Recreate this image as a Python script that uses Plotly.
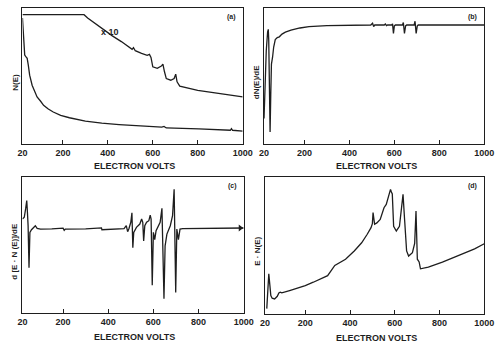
import plotly.graph_objects as go

# ---------------- data (arbitrary intensity units, 0-100) ----------------
# (a) N(E): x10 curve and normal curve
a_hi_E = [20, 294, 310, 340, 373, 420, 460, 500, 508, 514, 522, 550, 575, 585, 592, 600, 620, 638, 645, 652, 660, 680, 695, 702, 708, 720, 760, 800, 900, 1000]
a_hi_N = [95.1, 95.1, 92.6, 88.9, 85.2, 79.5, 75.3, 70.4, 69.6, 70.9, 68.6, 66.7, 65.2, 65.9, 63.7, 56.8, 55.6, 57.3, 58.8, 53.1, 48.1, 46.9, 48.1, 51.4, 45.7, 42.5, 41.0, 39.5, 37.0, 34.6]
a_lo_E = [20, 25, 30, 35, 41, 46, 52, 63, 75, 85, 100, 114, 135, 157, 190, 229, 300, 373, 450, 517, 600, 640, 650, 660, 805, 945, 950, 955, 1000]
a_lo_N = [92.6, 79.0, 65.4, 64.2, 63.0, 58.0, 50.6, 43.2, 38.3, 34.6, 31.6, 28.4, 25.7, 23.5, 21.0, 19.3, 16.8, 15.3, 14.3, 13.6, 12.6, 12.4, 12.9, 11.8, 11.1, 10.1, 11.3, 10.1, 9.4]

# (b) dN(E)/dE
b_E = [20, 24, 30, 36, 39, 41, 44, 47, 50, 53, 58, 63, 70, 79, 88, 100, 115, 140, 180, 220, 300, 400, 495, 503, 508, 513, 555, 560, 565, 570, 588, 592, 596, 600, 605, 636, 640, 645, 650, 655, 688, 692, 697, 702, 706, 1000]
b_N = [18.8, 43.8, 68.8, 82.5, 84.3, 76.3, 43.8, 8.8, 36.3, 58.8, 63.8, 71.3, 76.8, 78.3, 78.8, 80.8, 82.3, 83.8, 85.3, 86.3, 87.0, 87.3, 87.5, 88.8, 86.3, 87.5, 87.5, 88.3, 87.0, 87.5, 87.5, 88.3, 81.3, 86.8, 87.5, 87.5, 89.3, 81.3, 86.8, 87.5, 87.5, 90.3, 81.3, 86.8, 87.5, 87.5]

# (c) d[E.N(E)]/dE
c_E = [20, 28, 34, 39, 42, 45, 49, 53, 60, 70, 77, 85, 100, 150, 200, 205, 210, 300, 370, 372, 470, 480, 486, 492, 500, 505, 509, 513, 525, 540, 548, 553, 557, 562, 570, 580, 586, 590, 595, 600, 606, 612, 620, 630, 638, 642, 647, 652, 660, 675, 685, 692, 699, 704, 711, 718, 730, 1000]
c_N = [69.1, 70.4, 76.5, 82.7, 74.1, 64.2, 33.3, 59.3, 61.2, 63.0, 64.2, 62.2, 61.7, 61.9, 62.4, 60.8, 61.7, 61.9, 62.6, 61.2, 62.0, 64.2, 59.8, 62.2, 66.7, 73.7, 48.0, 59.3, 63.0, 65.4, 69.1, 66.7, 53.0, 64.2, 66.7, 67.9, 72.0, 69.1, 20.4, 59.3, 54.0, 60.5, 63.0, 66.7, 77.0, 42.0, 10.5, 49.4, 58.0, 64.2, 71.6, 91.0, 15.0, 61.7, 54.0, 61.7, 62.0, 62.5]

# (d) E.N(E)
d_E = [28, 31, 34, 37, 42, 46, 52, 63, 75, 82, 88, 95, 130, 165, 200, 236, 270, 300, 332, 380, 419, 452, 477, 494, 500, 503, 510, 520, 535, 552, 562, 571, 576, 581, 585, 589, 595, 607, 621, 631, 637, 644, 653, 662, 679, 689, 695, 701, 709, 715, 750, 813, 896, 957, 1000]
d_N = [3.9, 11.0, 23.2, 29.4, 20.7, 13.4, 11.5, 11.0, 12.9, 15.4, 15.9, 15.4, 17.1, 18.8, 20.7, 23.2, 25.6, 28.0, 35.5, 40.0, 46.0, 52.0, 58.2, 63.0, 66.0, 74.0, 65.5, 66.5, 69.0, 77.6, 80.0, 86.0, 87.5, 91.0, 89.0, 87.6, 64.0, 60.6, 64.0, 77.6, 87.3, 69.0, 46.0, 42.3, 44.7, 51.5, 75.2, 40.0, 38.0, 33.0, 34.3, 37.8, 43.6, 47.5, 51.3]

x_ticks = [20, 200, 400, 600, 800, 1000]
x_title = "ELECTRON VOLTS"
y_titles = ["N(E)", "dN(E)/dE", "d [E · N (E)]/dE", "E · N(E)"]
panel_tags = ["(a)", "(b)", "(c)", "(d)"]

# ---------------- figure ----------------
W, H = 502, 345
INK = "#1e1e1e"
FONT = "Liberation Sans"

# pixel boxes: (left, right, top, bottom)
boxes = [(18, 245, 8, 144), (267, 494, 8, 144), (18, 246, 177, 313), (268, 494, 177, 314)]

fig = go.Figure()
series = [
    [(a_hi_E, a_hi_N), (a_lo_E, a_lo_N)],
    [(b_E, b_N)],
    [(c_E, c_N)],
    [(d_E, d_N)],
]
for i, group in enumerate(series):
    sfx = "" if i == 0 else str(i + 1)
    for xs, ys in group:
        fig.add_trace(go.Scatter(x=xs, y=ys, mode="lines", xaxis="x" + sfx, yaxis="y" + sfx,
                                 line=dict(color=INK, width=1.3), hoverinfo="skip", showlegend=False))

# small arrowhead at the end of curve (c)
fig.add_trace(go.Scatter(x=[c_E[-1] - 15], y=[c_N[-1]], mode="markers", xaxis="x3", yaxis="y3",
                         marker=dict(symbol="triangle-right", size=6, color=INK),
                         hoverinfo="skip", showlegend=False))

layout = dict(width=W, height=H, margin=dict(l=0, r=0, t=0, b=0),
              paper_bgcolor="white", plot_bgcolor="white", showlegend=False)
annotations = []
for i, (l, r, t, b) in enumerate(boxes):
    sfx = "" if i == 0 else str(i + 1)
    layout["xaxis" + sfx] = dict(domain=[l / W, r / W], range=[20, 1000], anchor="y" + sfx,
                                 tickvals=x_ticks, ticktext=[str(v) for v in x_ticks],
                                 ticks="inside", ticklen=4, tickcolor=INK, tickwidth=1,
                                 showline=True, linecolor=INK, linewidth=1.2, mirror=True,
                                 showgrid=False, zeroline=False,
                                 tickfont=dict(family=FONT, size=9, color=INK, weight="bold"))
    layout["yaxis" + sfx] = dict(domain=[1 - b / H, 1 - t / H], range=[0, 100], anchor="x" + sfx,
                                 showticklabels=False, ticks="", showline=True, linecolor=INK,
                                 linewidth=1.2, mirror=True, showgrid=False, zeroline=False)
    cx = (l + r) / 2 + 2
    ty = b + 22 if i < 2 else b + 24
    annotations.append(dict(x=cx / W, y=1 - ty / H, xref="paper", yref="paper", text=x_title,
                            showarrow=False, xanchor="center", yanchor="middle",
                            font=dict(family=FONT, size=9, color=INK, weight="bold")))
    annotations.append(dict(x=(l - 8) / W, y=1 - ((t + b) / 2 + 6) / H, xref="paper", yref="paper",
                            text=y_titles[i], textangle=-90, showarrow=False,
                            xanchor="center", yanchor="middle",
                            font=dict(family=FONT, size=8, color=INK, weight="bold")))
    annotations.append(dict(x=(r - 12) / W, y=1 - (t + 9) / H, xref="paper", yref="paper",
                            text=panel_tags[i], showarrow=False, xanchor="center", yanchor="middle",
                            font=dict(family=FONT, size=7, color=INK, weight="bold")))

# "x 10" label for the magnified curve in (a)
annotations.append(dict(x=360, y=82, xref="x", yref="y", text="x 10", showarrow=False,
                        xanchor="left", yanchor="middle",
                        font=dict(family=FONT, size=9, color=INK, weight="bold")))
layout["annotations"] = annotations
fig.update_layout(**layout)
fig.write_html("out.html", config={"displayModeBar": False},
               post_script="document.body.style.margin='0';document.body.style.padding='0';")
